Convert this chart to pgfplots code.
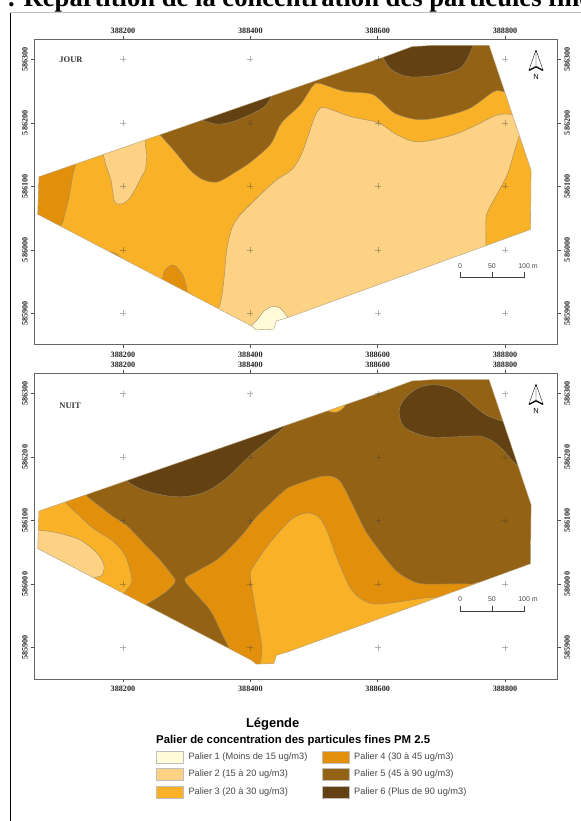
\documentclass[border=0pt]{standalone}
\usepackage{fontspec}
\setmainfont{Liberation Serif}
\newfontfamily\arial{Liberation Sans}
\usepackage{pgfplots}
\pgfplotsset{compat=1.18}
\definecolor{Pa}{HTML}{FFFBD8}
\definecolor{Pb}{HTML}{FDD285}
\definecolor{Pc}{HTML}{F9B128}
\definecolor{Pd}{HTML}{E28F0B}
\definecolor{Pe}{HTML}{936214}
\definecolor{Pf}{HTML}{634112}
\definecolor{edge}{HTML}{9A8A68}
\definecolor{outl}{HTML}{B09A6C}
\definecolor{frame}{HTML}{666666}
\pgfplotsset{
  mapaxis/.style={
    scale only axis,width=523bp,height=305.4bp,anchor=south west,
    xmin=388060.7,xmax=388882.1,ymin=585850.6,ymax=586331.5,
    axis on top,scaled ticks=false,
    axis line style={draw=frame,line width=.8bp},
    xtick={388200,388400,388600,388800},
    xticklabels={388200,388400,388600,388800},
    ytick={585900,586000,586100,586200,586300},
    yticklabels={585900,586000,586100,586200,586300},
    tick align=outside,major tick length=3.5bp,
    tick style={draw=black!70,line width=.6bp},
    ticklabel style={font=\fontsize{8.2}{8.2}\selectfont\bfseries,text=black!85,inner sep=0pt},
  },
  lowerleft/.style={mapaxis,xtick pos=lower,ytick pos=left,xticklabel pos=lower,yticklabel pos=left,
    yticklabel style={rotate=90,anchor=south,yshift=3bp},
    xticklabel style={yshift=-3.2bp}},
  upperright/.style={mapaxis,xtick pos=upper,ytick pos=right,xticklabel pos=upper,yticklabel pos=right,
    yticklabel style={rotate=90,anchor=north,yshift=-3.5bp},
    xticklabel style={yshift=2.5bp}},
  zone/.style={fill=#1,draw=edge,line width=.4bp,smooth,mark=none},
  grille/.style={only marks,mark=+,mark size=3.1bp,mark options={draw=black!75,line width=.35bp,opacity=.4}},
}
\newcommand{\scalebar}[1]{%
  \draw[draw=black!75,line width=.6bp] (460,#1-5.5) -- (460,#1) -- (524.3,#1) -- (524.3,#1-5.5) (492,#1) -- (492,#1-5.5);
  \node[font=\arial\fontsize{7}{7}\selectfont,text=black!70,inner sep=0pt] at (460,#1-11.5) {0};
  \node[font=\arial\fontsize{7}{7}\selectfont,text=black!70,inner sep=0pt] at (492,#1-11.5) {50};
  \node[font=\arial\fontsize{7}{7}\selectfont,text=black!70,inner sep=0pt] at (528,#1-11.5) {100 m};
}
\newcommand{\north}[1]{%
  \draw[draw=black,line width=.35bp,fill=white] (536,#1) -- (529,#1+20) -- (536,#1+16) -- (543,#1+20) -- cycle (536,#1) -- (536,#1+16);
  \draw[draw=black,line width=.9bp] (529,#1+20.5) -- (536,#1+17) -- (543,#1+20.5);
  \node[font=\arial\fontsize{7.5}{7.5}\selectfont,inner sep=0pt] at (536,#1+26.5) {N};
}
\newcommand{\legbox}[3]{%
  \draw[draw=black!25,line width=.7bp,fill=#3] (#1,#2) rectangle ++(26.6,12.8);
}
\newcommand{\legtext}[3]{%
  \node[font=\arial\fontsize{9.3}{9.3}\selectfont,text=black!72,inner sep=0pt,anchor=west] at (#1,#2) {#3};
}
\begin{document}
\begin{tikzpicture}
\useasboundingbox (0,0) rectangle (581bp,-821bp);
\fill[white] (0,0) rectangle (581bp,-821bp);
\begin{scope}[x=1bp,y=-1bp]
\begin{scope}
\clip (0,0) rectangle (581,821);
\node[anchor=base west,inner sep=0pt,font=\fontsize{26.7}{26.7}\selectfont\bfseries] at (8,6) {. Répartition de la concentration des particules fines PM 2.5};
\end{scope}
\draw[draw=black!25,line width=.7bp] (10,12.7) -- (581,12.7);
\draw[draw=black,line width=1bp] (10.7,12.5) -- (10.7,821);
\end{scope}

% ---------- JOUR
\begin{axis}[lowerleft,at={(34.3bp,-344.7bp)}]
\addplot[fill=Pc,draw=none] coordinates {(388066,586056)(388068,586115)(388608,586303)(388654,586320)(388687,586322)(388775,586322)(388841,586125)(388840,586032)(388458,585893)(388441,585888)(388437,585875)(388409,585874)(388402,585880)};
% palier 4, coin ouest
\addplot[zone=Pd] coordinates {(388054,586126)(388122,586141)(388121,586118)(388115,586082)(388109,586059)(388100,586037)(388054,586031)};
% palier 2, ouest
\addplot[zone=Pb] coordinates {(388164,586173)(388169,586150)(388174,586131)(388181,586110)(388187,586076)(388196,586072)(388208,586078)(388219,586095)(388229,586115)(388235,586126)(388237,586149)(388235,586171)(388242,586196)};
% palier 2, centre
\addplot[zone=Pb] coordinates {(388337,585858)(388350,585906)(388355,585926)(388359,585958)(388363,586000)(388371,586034)(388384,586055)(388415,586086)(388441,586110)(388465,586126)(388481,586152)(388499,586204)(388507,586220)(388517,586224)(388557,586210)(388601,586200)(388627,586183)(388648,586173)(388661,586170)(388682,586172)(388719,586181)(388750,586194)(388787,586212)(388811,586213)(388839,586204)(388855,586000)(388761,585858)};
% palier 3, sud-est
\addplot[zone=Pc] coordinates {(388822,586179)(388813,586149)(388805,586122)(388797,586105)(388774,586063)(388770,586047)(388770,586008)(388770,585981)(388863,585981)(388863,586189)(388827,586204)};
% palier 4, petits
\addplot[zone=Pd] coordinates {(388258,585921)(388262,585953)(388266,585968)(388277,585976)(388284,585973)(388295,585958)(388301,585934)(388301,585913)};
\addplot[zone=Pd] coordinates {(388176,585997)(388187,585995)(388195,585989)(388192,585976)(388172,585984)};
% palier 1
\addplot[zone=Pa] coordinates {(388399,585866)(388402,585880)(388410,585889)(388423,585905)(388436,585911)(388447,585908)(388460,585893)(388465,585889)(388442,585882)(388439,585866)};
% palier 5
\addplot[zone=Pe] coordinates {(388242,586196)(388258,586181)(388282,586154)(388305,586126)(388321,586113)(388337,586107)(388352,586108)(388376,586122)(388399,586137)(388426,586160)(388436,586173)(388449,586200)(388478,586228)(388498,586258)(388509,586262)(388546,586250)(388588,586246)(388604,586236)(388627,586215)(388664,586205)(388703,586210)(388745,586223)(388782,586249)(388798,586249)(388824,586244)(388824,586346)(388242,586346)};
% palier 6
\addplot[zone=Pf] coordinates {(388313,586208)(388346,586198)(388373,586202)(388404,586215)(388423,586226)(388434,586244)(388439,586267)(388313,586252)};
\addplot[zone=Pf] coordinates {(388600,586315)(388608,586303)(388619,586286)(388638,586275)(388659,586272)(388693,586275)(388724,586283)(388737,586294)(388749,586320)(388753,586346)(388604,586346)};
% masque hors emprise
\addplot[fill=white,draw=none,even odd rule] coordinates {(388040,586360)(388900,586360)(388900,585830)(388040,585830)(388040,586056)(388066,586056)(388068,586115)(388608,586303)(388654,586320)(388687,586322)(388775,586322)(388841,586125)(388840,586032)(388458,585893)(388441,585888)(388437,585875)(388409,585874)(388402,585880)(388066,586056)(388040,586056)};
\addplot[draw=outl,line width=.4bp,mark=none] coordinates {(388066,586056)(388068,586115)(388608,586303)(388654,586320)(388687,586322)(388775,586322)(388841,586125)(388840,586032)(388458,585893)(388441,585888)(388437,585875)(388409,585874)(388402,585880)(388066,586056)};
\addplot[grille] coordinates {(388200,585900)(388400,585900)(388600,585900)(388800,585900)(388200,586000)(388400,586000)(388600,586000)(388800,586000)(388200,586100)(388400,586100)(388600,586100)(388800,586100)(388200,586200)(388400,586200)(388600,586200)(388800,586200)(388200,586300)(388400,586300)(388600,586300)(388800,586300)};
\end{axis}
\begin{axis}[upperright,at={(34.3bp,-344.7bp)}]
\end{axis}

% ---------- NUIT
\begin{axis}[lowerleft,at={(34.3bp,-679bp)}]
\addplot[fill=Pe,draw=none] coordinates {(388066,586056)(388068,586115)(388608,586303)(388654,586320)(388687,586322)(388775,586322)(388841,586125)(388840,586032)(388458,585893)(388441,585888)(388437,585875)(388409,585874)(388402,585880)};
% palier 4, ouest
\addplot[zone=Pd] coordinates {(388143,586148)(388143,586139)(388164,586122)(388185,586106)(388206,586092)(388232,586065)(388258,586038)(388274,586018)(388282,586005)(388271,585991)(388253,585978)(388236,585967)(388227,585951)(388054,585951)(388054,586148)};
% palier 3, ouest
\addplot[zone=Pc] coordinates {(388109,586148)(388109,586130)(388127,586112)(388153,586088)(388185,586067)(388203,586046)(388211,586022)(388214,586004)(388208,585994)(388202,585986)(388195,585967)(388054,585967)(388054,586148)};
% palier 2, ouest
\addplot[zone=Pb] coordinates {(388054,586085)(388068,586085)(388096,586081)(388132,586070)(388159,586049)(388170,586030)(388167,586014)(388153,586010)(388145,586007)(388054,586007)};
% palier 4, centre
\addplot[zone=Pd] coordinates {(388360,585888)(388367,585897)(388355,585923)(388337,585959)(388316,585983)(388297,586007)(388316,586020)(388347,586038)(388373,586062)(388392,586083)(388410,586106)(388452,586146)(388467,586155)(388509,586169)(388530,586169)(388543,586159)(388562,586122)(388580,586085)(388604,586051)(388630,586020)(388656,586004)(388677,586000)(388745,586000)(388761,585991)(388761,585849)(388360,585849)};
% palier 3, centre
\addplot[zone=Pc] coordinates {(388407,585865)(388415,585874)(388418,585902)(388410,585949)(388400,586012)(388405,586028)(388426,586059)(388447,586084)(388467,586104)(388489,586112)(388507,586106)(388520,586085)(388533,586049)(388546,586017)(388557,585994)(388572,585978)(388593,585969)(388625,585971)(388666,585977)(388693,585979)(388706,585967)(388706,585849)(388407,585849)};
% palier 3, trace nord
\addplot[zone=Pc] coordinates {(388517,586290)(388520,586274)(388536,586271)(388549,586282)(388541,586298)};
% palier 6
\addplot[zone=Pf] coordinates {(388203,586170)(388208,586161)(388232,586148)(388269,586139)(388300,586138)(388331,586146)(388363,586167)(388400,586203)(388426,586224)(388457,586251)(388462,586266)(388462,586322)(388203,586322)};
\addplot[zone=Pf] coordinates {(388816,586251)(388795,586257)(388771,586266)(388750,586282)(388729,586301)(388708,586311)(388687,586314)(388666,586310)(388648,586298)(388636,586282)(388634,586266)(388641,586248)(388661,586237)(388687,586231)(388724,586232)(388761,586233)(388782,586224)(388797,586211)(388818,586188)(388839,586180)(388839,586266)};
\addplot[fill=white,draw=none,even odd rule] coordinates {(388040,586360)(388900,586360)(388900,585830)(388040,585830)(388040,586056)(388066,586056)(388068,586115)(388608,586303)(388654,586320)(388687,586322)(388775,586322)(388841,586125)(388840,586032)(388458,585893)(388441,585888)(388437,585875)(388409,585874)(388402,585880)(388066,586056)(388040,586056)};
\addplot[draw=outl,line width=.4bp,mark=none] coordinates {(388066,586056)(388068,586115)(388608,586303)(388654,586320)(388687,586322)(388775,586322)(388841,586125)(388840,586032)(388458,585893)(388441,585888)(388437,585875)(388409,585874)(388402,585880)(388066,586056)};
\addplot[grille] coordinates {(388200,585900)(388400,585900)(388600,585900)(388800,585900)(388200,586000)(388400,586000)(388600,586000)(388800,586000)(388200,586100)(388400,586100)(388600,586100)(388800,586100)(388200,586200)(388400,586200)(388600,586200)(388800,586200)(388200,586300)(388400,586300)(388600,586300)(388800,586300)};
\end{axis}
\begin{axis}[upperright,at={(34.3bp,-679bp)}]
\end{axis}

\begin{scope}[x=1bp,y=-1bp]
\node[font=\fontsize{8.5}{8.5}\selectfont\bfseries,text=black!80,inner sep=0pt,anchor=west] at (59.3,59.7) {JOUR};
\node[font=\fontsize{8.5}{8.5}\selectfont\bfseries,text=black!80,inner sep=0pt,anchor=west] at (59.3,406) {NUIT};
\north{50}
\north{384}
\scalebar{277.3}
\scalebar{611}

% ---------- legende
\node[font=\arial\fontsize{13}{13}\selectfont\bfseries,inner sep=0pt] at (272.7,724.3) {Légende};
\node[font=\arial\fontsize{11.4}{11.4}\selectfont\bfseries,inner sep=0pt,anchor=west] at (156,741) {Palier de concentration des particules fines PM 2.5};
\legbox{156.7}{751}{Pa}\legtext{188.3}{757.5}{Palier 1 (Moins de 15 ug/m3)}
\legbox{156.7}{768}{Pb}\legtext{188.3}{774.5}{Palier 2 (15 à 20 ug/m3)}
\legbox{156.7}{786}{Pc}\legtext{188.3}{792.5}{Palier 3 (20 à 30 ug/m3)}
\legbox{322.7}{751}{Pd}\legtext{354}{757.5}{Palier 4 (30 à 45 ug/m3)}
\legbox{322.7}{768}{Pe}\legtext{354}{774.5}{Palier 5 (45 à 90 ug/m3)}
\legbox{322.7}{786}{Pf}\legtext{354}{792.5}{Palier 6 (Plus de 90 ug/m3)}
\end{scope}
\end{tikzpicture}
\end{document}
